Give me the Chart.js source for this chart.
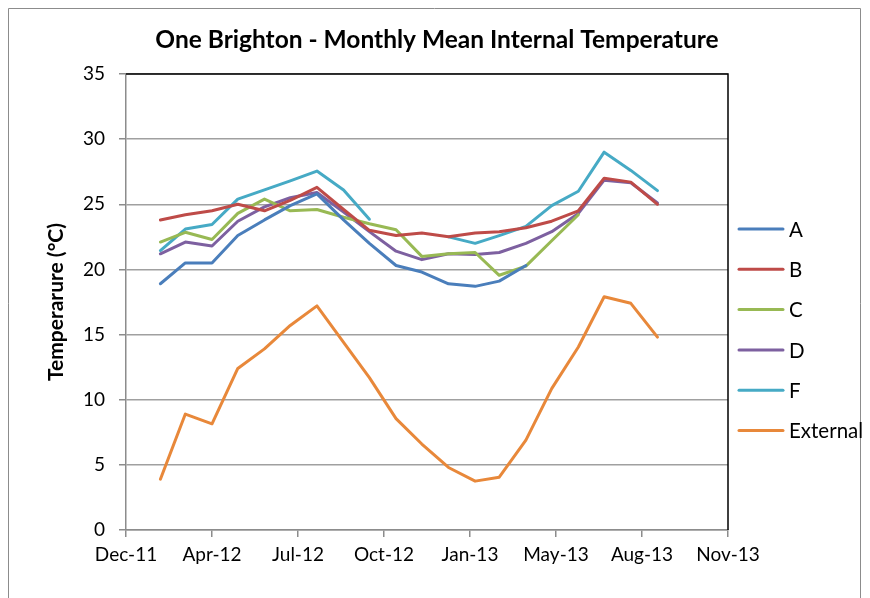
<!DOCTYPE html>
<html>
<head>
<meta charset="utf-8">
<script src="https://cdn.jsdelivr.net/npm/chart.js@4.4.1/dist/chart.umd.min.js"></script>
<style>
  html, body { margin: 0; padding: 0; background: #fff; }
  #wrap { width: 870px; height: 598px; }
</style>
</head>
<body>
<div id="wrap"><canvas id="chart1" width="870" height="598"></canvas></div>
<script>
// monthly readings, Feb 2012 - Sep 2013
var months = ['2012-02','2012-03','2012-04','2012-05','2012-06','2012-07','2012-08','2012-09','2012-10','2012-11',
              '2012-12','2013-01','2013-02','2013-03','2013-04','2013-05','2013-06','2013-07','2013-08','2013-09'];

var seriesA = [18.9, 20.5, 20.5, 22.6, 23.8, 24.9, 25.8, 23.8, 22.0, 20.3, 19.8, 18.9, 18.7, 19.1, 20.3, null, null, null, null, null];
var seriesB = [23.8, 24.2, 24.5, 25.0, 24.5, 25.3, 26.3, 24.6, 23.0, 22.6, 22.8, 22.5, 22.8, 22.9, 23.2, 23.7, 24.5, 27.0, 26.7, 25.0];
var seriesC = [22.1, 22.85, 22.3, 24.3, 25.4, 24.5, 24.6, 24.0, 23.5, 23.05, 21.0, 21.2, 21.3, 19.55, 20.25, 22.2, 24.2, null, null, null];
var seriesD = [21.2, 22.1, 21.8, 23.7, 24.8, 25.5, 25.9, 24.4, 22.9, 21.4, 20.75, 21.2, 21.15, 21.3, 22.0, 22.9, 24.3, 26.85, 26.65, 25.1];
var seriesF = [21.45, 23.1, 23.45, 25.4, 26.1, 26.8, 27.55, 26.1, 23.85, null, null, 22.5, 22.0, 22.6, 23.3, 24.9, 26.0, 29.0, 27.6, 26.05];
var external = [3.9, 8.9, 8.15, 12.4, 13.9, 15.7, 17.2, 14.4, 11.7, 8.55, 6.6, 4.8, 3.75, 4.05, 6.9, 10.85, 14.05, 17.9, 17.4, 14.8];

var seriesNames = ['A', 'B', 'C', 'D', 'F', 'External'];
var seriesColors = ['#4a7ebb', '#be4b48', '#98b954', '#7d60a0', '#46aac5', '#e8883a'];

var chartTitle = 'One Brighton - Monthly Mean Internal Temperature';

// x axis: date axis, a label every 100 days from 23 Dec 2011
var axisStart = '2011-12-23';
var axisStepDays = 100;
var axisSteps = 7;
var monthNames = ['Jan','Feb','Mar','Apr','May','Jun','Jul','Aug','Sep','Oct','Nov','Dec'];

function toDay(s) {
  var p = s.split('-');
  return Date.UTC(+p[0], +p[1] - 1, p[2] ? +p[2] : 1) / 864e5;
}
function dayLabel(v) {
  var d = new Date(v * 864e5);
  return monthNames[d.getUTCMonth()] + '-' + String(d.getUTCFullYear()).slice(2);
}

var startDay = toDay(axisStart);
var xs = months.map(toDay);
var allSeries = [seriesA, seriesB, seriesC, seriesD, seriesF, external];

var datasets = allSeries.map(function(vals, i) {
  return {
    label: seriesNames[i],
    data: vals.map(function(v, j) { return { x: xs[j], y: v }; }),
    borderColor: seriesColors[i],
    backgroundColor: seriesColors[i],
    borderWidth: 3,
    pointRadius: 0,
    tension: 0,
    spanGaps: false,
    borderJoinStyle: 'round',
    borderCapStyle: 'round'
  };
});

// outer frame, white background and the chart title (centred on the whole frame)
var framePlugin = {
  id: 'frame',
  beforeDraw: function(chart) {
    var c = chart.ctx;
    c.save();
    c.fillStyle = '#fff';
    c.fillRect(0, 0, chart.width, chart.height);
    c.strokeStyle = '#8c8c8c';
    c.lineWidth = 1;
    c.beginPath();
    c.moveTo(8.5, chart.height);
    c.lineTo(8.5, 8.5);
    c.lineTo(860.5, 8.5);
    c.lineTo(860.5, chart.height);
    c.stroke();
    c.fillStyle = '#000';
    c.font = 'bold 24.5px Lato';
    c.textAlign = 'center';
    c.textBaseline = 'middle';
    c.fillText(chartTitle, 437, 40);
    c.restore();
  }
};

// black top/right plot border
var plotBorder = {
  id: 'plotBorder',
  beforeDatasetsDraw: function(chart) {
    var a = chart.chartArea, c = chart.ctx;
    c.save();
    c.strokeStyle = '#000';
    c.lineWidth = 1.5;
    c.beginPath();
    c.moveTo(a.left, a.top);
    c.lineTo(a.right, a.top);
    c.lineTo(a.right, a.bottom);
    c.stroke();
    c.restore();
  }
};

// legend drawn beside the plot, Excel style
var sideLegend = {
  id: 'sideLegend',
  afterDraw: function(chart) {
    var c = chart.ctx;
    c.save();
    c.font = '20.5px Lato';
    c.textBaseline = 'middle';
    c.textAlign = 'left';
    chart.data.datasets.forEach(function(ds, i) {
      var y = 229 + i * 40.3;
      c.strokeStyle = ds.borderColor;
      c.lineWidth = 3;
      c.lineCap = 'round';
      c.beginPath();
      c.moveTo(739, y);
      c.lineTo(783, y);
      c.stroke();
      c.fillStyle = '#000';
      c.fillText(ds.label, 789, y + 1);
    });
    c.restore();
  }
};

var ctx = document.getElementById('chart1').getContext('2d');
var myChart = new Chart(ctx, {
  type: 'line',
  data: { datasets: datasets },
  options: {
    responsive: false,
    animation: false,
    maintainAspectRatio: false,
    layout: { padding: { left: 8, right: 142, top: 74, bottom: 0 } },
    plugins: {
      legend: { display: false },
      tooltip: { enabled: false },
      title: { display: false }
    },
    scales: {
      x: {
        type: 'linear',
        min: startDay,
        max: startDay + axisStepDays * axisSteps,
        afterBuildTicks: function(scale) {
          var t = [];
          for (var i = 0; i <= axisSteps; i++) t.push({ value: startDay + i * axisStepDays });
          scale.ticks = t;
        },
        afterFit: function(scale) { scale.height = 68; },
        ticks: {
          color: '#000',
          font: { family: 'Lato', size: 19 },
          padding: 6,
          maxRotation: 0,
          autoSkip: false,
          callback: function(v) { return dayLabel(v); }
        },
        grid: {
          drawOnChartArea: false,
          drawTicks: true,
          tickLength: 7,
          tickColor: '#8c8c8c',
          lineWidth: 1.5
        },
        border: { color: '#8c8c8c', width: 1.5 }
      },
      y: {
        min: 0,
        max: 35,
        afterFit: function(scale) { scale.width = 118; },
        ticks: {
          stepSize: 5,
          color: '#000',
          font: { family: 'Lato', size: 19 },
          padding: 14
        },
        grid: {
          color: '#a0a0a0',
          lineWidth: 1.5,
          tickLength: 7,
          tickColor: '#8c8c8c'
        },
        border: { color: '#8c8c8c', width: 1.5 },
        title: {
          display: true,
          text: 'Temperarure (°C)',
          color: '#000',
          font: { family: 'Lato', size: 21, weight: 'bold' },
          padding: { top: 36, bottom: 0 }
        }
      }
    }
  },
  plugins: [framePlugin, plotBorder, sideLegend]
});
</script>
</body>
</html>
